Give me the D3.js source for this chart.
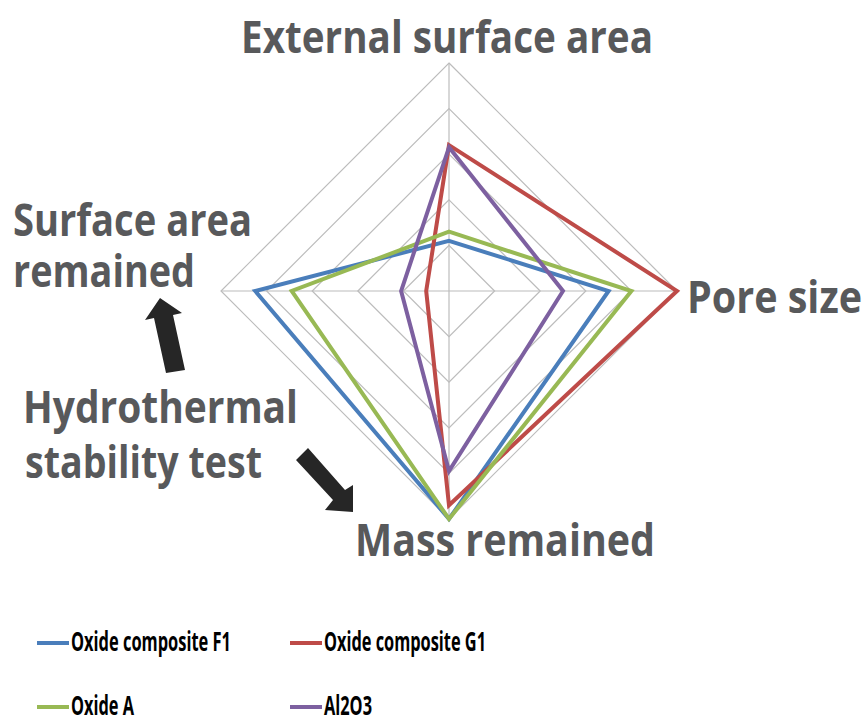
<!DOCTYPE html>
<html>
<head>
<meta charset="utf-8">
<script src="https://cdn.jsdelivr.net/npm/d3@7"></script>
<style>
  html, body { margin: 0; padding: 0; background: #fff; }
  svg { display: block; }
  text { font-family: "Open Sans", "Noto Sans", sans-serif; font-weight: 700; }
</style>
</head>
<body>
<svg id="chart" width="865" height="719"></svg>
<script>
// Radar axes, clockwise from the top
const axes = ["External surface area", "Pore size", "Mass remained", "Surface area remained"];

// Scores on a 0–5 scale, one per axis (same order as axes)
const seriesNames = ["Oxide composite F1", "Oxide composite G1", "Oxide A", "Al2O3"];
const oxideF1 = [1.1, 3.5, 5.0, 4.25];
const oxideG1 = [3.2, 5.0, 4.7, 0.5];
const oxideA  = [1.3, 4.0, 5.0, 3.45];
const al2o3   = [3.15, 2.5, 3.95, 1.05];
const seriesValues = [oxideF1, oxideG1, oxideA, al2o3];
const seriesColors = ["#4a7ebb", "#be4b48", "#98b954", "#7d60a0"];

const gridLevels = [1, 2, 3, 4, 5];

const svg = d3.select("#chart");
const cx = 449, cy = 291, R = 228;

const r = d3.scaleLinear().domain([0, 5]).range([0, R]);
const angle = d3.scalePoint().domain(d3.range(axes.length)).range([0, 2 * Math.PI * (axes.length - 1) / axes.length]);

const point = (i, v) => [cx + r(v) * Math.sin(angle(i)), cy - r(v) * Math.cos(angle(i))];

const g = svg.append("g");

// Grid rings
const ringLine = d3.line().curve(d3.curveLinearClosed);
g.selectAll("path.ring")
  .data(gridLevels)
  .join("path")
  .attr("class", "ring")
  .attr("d", lv => ringLine(axes.map((_, i) => point(i, lv))))
  .attr("fill", "none")
  .attr("stroke", "#bcbcbc")
  .attr("stroke-width", 1.2);

// Spokes
g.selectAll("line.spoke")
  .data(axes)
  .join("line")
  .attr("class", "spoke")
  .attr("x1", cx).attr("y1", cy)
  .attr("x2", (_, i) => point(i, 5)[0])
  .attr("y2", (_, i) => point(i, 5)[1])
  .attr("stroke", "#bcbcbc")
  .attr("stroke-width", 1.2);

// Series polygons
g.selectAll("path.series")
  .data(seriesValues)
  .join("path")
  .attr("class", "series")
  .attr("d", vals => ringLine(vals.map((v, i) => point(i, v))))
  .attr("fill", "none")
  .attr("stroke", (_, k) => seriesColors[k])
  .attr("stroke-width", 4)
  .attr("stroke-linejoin", "miter");

// Axis and annotation labels
const labelColor = "#58595b";
const labels = [
  { t: "External surface area", x: 241, y: 53, w: 412 },
  { t: "Pore size", x: 687, y: 313, w: 175 },
  { t: "Mass remained", x: 355, y: 556, w: 300 },
  { t: "Surface area", x: 13, y: 236, w: 239 },
  { t: "remained", x: 13, y: 287, w: 182 },
  { t: "Hydrothermal", x: 23, y: 423, w: 275 },
  { t: "stability test", x: 25, y: 478, w: 237 }
];
svg.selectAll("text.lbl")
  .data(labels)
  .join("text")
  .attr("class", "lbl")
  .attr("x", d => d.x).attr("y", d => d.y)
  .attr("textLength", d => d.w)
  .attr("lengthAdjust", "spacingAndGlyphs")
  .attr("font-size", 44)
  .attr("fill", labelColor)
  .text(d => d.t);

// Block arrows pointing from the test label to the affected axes
const arrows = [
  [[160, 298], [182, 313], [173, 315], [185, 370], [166, 373], [154, 318], [145, 320]],
  [[296, 460], [308, 448], [345, 490], [353, 485], [353, 512], [325, 510], [333, 500]]
];
svg.selectAll("path.arrow")
  .data(arrows)
  .join("path")
  .attr("class", "arrow")
  .attr("d", pts => d3.line()(pts) + "Z")
  .attr("fill", "#262626");

// Legend
const legendPos = [
  { x: 37, y: 643, w: 160 },
  { x: 290, y: 643, w: 162 },
  { x: 37, y: 707, w: 63 },
  { x: 290, y: 707, w: 48 }
];
const leg = svg.selectAll("g.leg")
  .data(seriesNames)
  .join("g")
  .attr("class", "leg")
  .attr("transform", (_, k) => `translate(${legendPos[k].x},${legendPos[k].y})`);
leg.append("line")
  .attr("x1", 0).attr("x2", 32).attr("y1", 0).attr("y2", 0)
  .attr("stroke", (_, k) => seriesColors[k])
  .attr("stroke-width", 4);
leg.append("text")
  .attr("x", 34).attr("y", 8)
  .attr("font-size", 26)
  .attr("fill", "#000")
  .attr("textLength", (_, k) => legendPos[k].w)
  .attr("lengthAdjust", "spacingAndGlyphs")
  .text(d => d);
</script>
</body>
</html>
